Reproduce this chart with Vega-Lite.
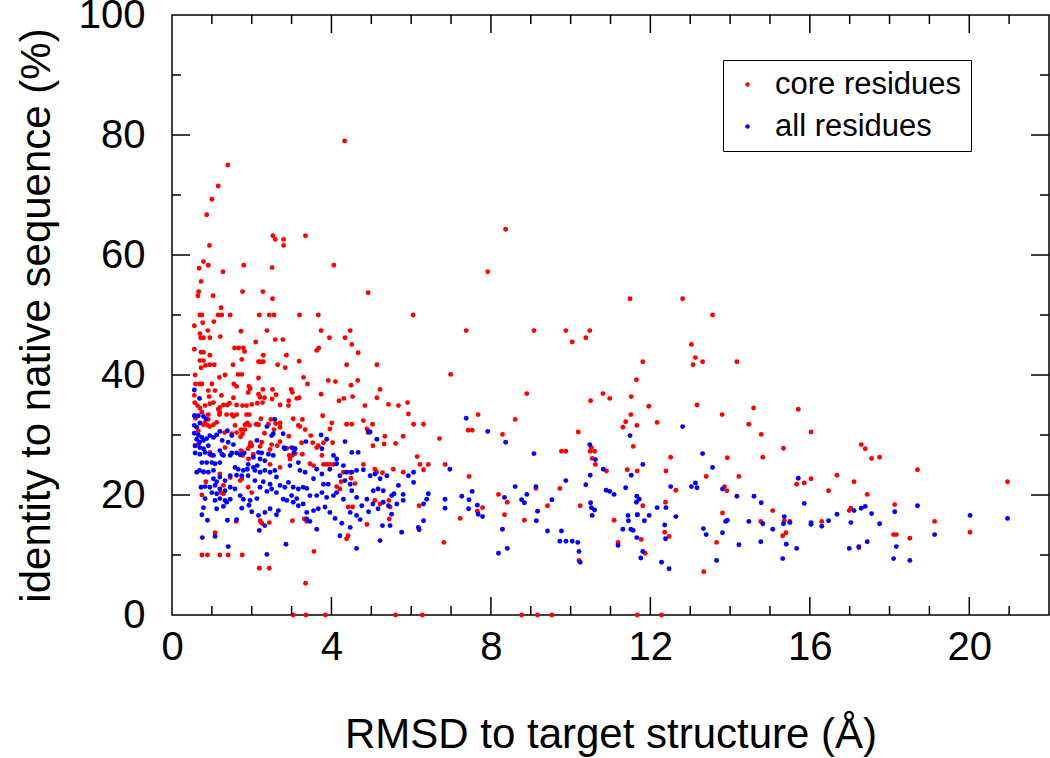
{
  "$schema": "https://vega.github.io/schema/vega-lite/v6.json",
  "width": 877,
  "height": 600,
  "autosize": {"type": "none"},
  "padding": {"left": 172, "top": 15, "right": 1, "bottom": 143},
  "config": {
    "view": {"stroke": "black", "strokeWidth": 1.5},
    "font": "Liberation Sans",
    "axis": {"labelFont": "Liberation Sans", "titleFont": "Liberation Sans", "labelColor": "black", "titleColor": "black", "domain": false, "ticks": false, "grid": false, "titleFontWeight": "normal"}
  },
  "datasets": {
    "xmajor": [{"v": 4}, {"v": 8}, {"v": 12}, {"v": 16}, {"v": 20}],
    "xminor": [{"v": 1}, {"v": 2}, {"v": 3}, {"v": 5}, {"v": 6}, {"v": 7}, {"v": 9}, {"v": 10}, {"v": 11}, {"v": 13}, {"v": 14}, {"v": 15}, {"v": 17}, {"v": 18}, {"v": 19}, {"v": 21}],
    "ymajor": [{"v": 20}, {"v": 40}, {"v": 60}, {"v": 80}],
    "yminor": [{"v": 10}, {"v": 30}, {"v": 50}, {"v": 70}, {"v": 90}]
  },
  "data": {"values": [
{"x":4.33,"y":79.0,"s":"core residues"},{"x":1.40,"y":75.0,"s":"core residues"},{"x":1.16,"y":71.5,"s":"core residues"},{"x":1.00,"y":69.3,"s":"core residues"},{"x":0.87,"y":66.7,"s":"core residues"},{"x":0.94,"y":61.6,"s":"core residues"},{"x":2.53,"y":63.2,"s":"core residues"},{"x":2.59,"y":62.6,"s":"core residues"},{"x":2.80,"y":62.6,"s":"core residues"},{"x":2.80,"y":61.6,"s":"core residues"},{"x":3.35,"y":63.2,"s":"core residues"},{"x":0.79,"y":58.9,"s":"core residues"},{"x":0.68,"y":57.8,"s":"core residues"},{"x":0.91,"y":58.3,"s":"core residues"},{"x":1.80,"y":58.3,"s":"core residues"},{"x":2.51,"y":57.9,"s":"core residues"},{"x":4.06,"y":58.3,"s":"core residues"},{"x":1.28,"y":57.2,"s":"core residues"},{"x":0.73,"y":55.6,"s":"core residues"},{"x":0.67,"y":53.9,"s":"core residues"},{"x":0.65,"y":53.2,"s":"core residues"},{"x":1.03,"y":53.2,"s":"core residues"},{"x":1.77,"y":53.9,"s":"core residues"},{"x":2.28,"y":53.9,"s":"core residues"},{"x":2.52,"y":52.7,"s":"core residues"},{"x":4.92,"y":53.7,"s":"core residues"},{"x":1.23,"y":51.2,"s":"core residues"},{"x":0.70,"y":50,"s":"core residues"},{"x":0.75,"y":50,"s":"core residues"},{"x":1.16,"y":50,"s":"core residues"},{"x":1.25,"y":50,"s":"core residues"},{"x":1.46,"y":50,"s":"core residues"},{"x":2.19,"y":50,"s":"core residues"},{"x":2.44,"y":50,"s":"core residues"},{"x":2.56,"y":50,"s":"core residues"},{"x":3.20,"y":50,"s":"core residues"},{"x":3.67,"y":50,"s":"core residues"},{"x":6.05,"y":50,"s":"core residues"},
{"x":8.37,"y":64.3,"s":"core residues"},{"x":7.92,"y":57.2,"s":"core residues"},{"x":7.38,"y":47.4,"s":"core residues"},{"x":9.08,"y":47.4,"s":"core residues"},{"x":9.88,"y":47.4,"s":"core residues"},{"x":10.04,"y":45.5,"s":"core residues"},{"x":10.38,"y":46.2,"s":"core residues"},{"x":10.48,"y":47.4,"s":"core residues"},{"x":11.49,"y":52.7,"s":"core residues"},{"x":12.81,"y":52.7,"s":"core residues"},{"x":13.56,"y":50.0,"s":"core residues"},{"x":13.03,"y":45.1,"s":"core residues"},{"x":13.13,"y":42.9,"s":"core residues"},{"x":13.07,"y":41.7,"s":"core residues"},{"x":13.31,"y":42.2,"s":"core residues"},{"x":14.17,"y":42.2,"s":"core residues"},{"x":11.81,"y":42.2,"s":"core residues"},{"x":11.65,"y":39.2,"s":"core residues"},{"x":8.90,"y":36.9,"s":"core residues"},{"x":10.50,"y":35.7,"s":"core residues"},{"x":10.81,"y":36.9,"s":"core residues"},{"x":10.98,"y":36.1,"s":"core residues"},{"x":11.52,"y":36.4,"s":"core residues"},{"x":11.96,"y":34.8,"s":"core residues"},{"x":13.17,"y":35.0,"s":"core residues"},{"x":14.59,"y":34.5,"s":"core residues"},{"x":13.80,"y":33.4,"s":"core residues"},{"x":14.47,"y":31.8,"s":"core residues"},{"x":14.78,"y":30.1,"s":"core residues"},{"x":7.68,"y":33.4,"s":"core residues"},{"x":7.43,"y":30.8,"s":"core residues"},{"x":7.53,"y":30.8,"s":"core residues"},{"x":8.61,"y":32.6,"s":"core residues"},{"x":8.29,"y":30.1,"s":"core residues"},{"x":10.19,"y":30.5,"s":"core residues"},{"x":11.51,"y":33.4,"s":"core residues"},{"x":11.38,"y":32.2,"s":"core residues"},{"x":11.31,"y":31.3,"s":"core residues"},{"x":11.66,"y":31.6,"s":"core residues"},{"x":12.17,"y":32.1,"s":"core residues"},{"x":11.57,"y":28.1,"s":"core residues"},{"x":9.77,"y":27.3,"s":"core residues"},{"x":9.88,"y":27.3,"s":"core residues"},{"x":10.49,"y":27.3,"s":"core residues"},{"x":10.52,"y":27.9,"s":"core residues"},{"x":10.60,"y":27.3,"s":"core residues"},{"x":10.54,"y":26.1,"s":"core residues"},{"x":10.62,"y":25.1,"s":"core residues"},{"x":10.90,"y":24.0,"s":"core residues"},{"x":11.42,"y":24.2,"s":"core residues"},{"x":11.67,"y":24.0,"s":"core residues"},{"x":12.39,"y":24.0,"s":"core residues"},{"x":12.51,"y":26.3,"s":"core residues"},{"x":13.40,"y":23.1,"s":"core residues"},{"x":13.93,"y":26.2,"s":"core residues"},{"x":14.22,"y":23.1,"s":"core residues"},{"x":7.45,"y":23.1,"s":"core residues"},{"x":9.13,"y":21.1,"s":"core residues"},{"x":9.73,"y":21.1,"s":"core residues"},{"x":12.64,"y":20.8,"s":"core residues"},{"x":13.86,"y":21.4,"s":"core residues"},{"x":13.92,"y":20.7,"s":"core residues"},{"x":8.19,"y":20.1,"s":"core residues"},{"x":8.41,"y":18.8,"s":"core residues"},{"x":7.79,"y":17.9,"s":"core residues"},{"x":7.66,"y":17.3,"s":"core residues"},{"x":7.23,"y":16.1,"s":"core residues"},{"x":8.34,"y":16.7,"s":"core residues"},{"x":8.84,"y":15.8,"s":"core residues"},{"x":9.42,"y":18.2,"s":"core residues"},{"x":10.24,"y":18.2,"s":"core residues"},{"x":11.09,"y":15.8,"s":"core residues"},{"x":11.81,"y":18.2,"s":"core residues"},{"x":11.68,"y":16.7,"s":"core residues"},{"x":12.38,"y":18.8,"s":"core residues"},{"x":12.36,"y":13.8,"s":"core residues"},{"x":12.47,"y":13.1,"s":"core residues"},{"x":11.77,"y":12.6,"s":"core residues"},{"x":11.19,"y":12.1,"s":"core residues"},{"x":11.87,"y":10.3,"s":"core residues"},{"x":10.21,"y":9.1,"s":"core residues"},{"x":13.34,"y":7.2,"s":"core residues"},{"x":13.66,"y":12.1,"s":"core residues"},{"x":13.81,"y":17.0,"s":"core residues"},{"x":14.77,"y":15.6,"s":"core residues"},{"x":8.77,"y":0,"s":"core residues"},{"x":9.17,"y":0,"s":"core residues"},{"x":9.53,"y":0,"s":"core residues"},{"x":11.67,"y":0,"s":"core residues"},{"x":12.28,"y":0,"s":"core residues"},
{"x":14.82,"y":26.3,"s":"core residues"},{"x":15.34,"y":27.8,"s":"core residues"},{"x":15.71,"y":34.3,"s":"core residues"},{"x":16.03,"y":30.5,"s":"core residues"},{"x":16.03,"y":22.7,"s":"core residues"},{"x":15.67,"y":21.8,"s":"core residues"},{"x":15.86,"y":22.0,"s":"core residues"},{"x":16.47,"y":20.7,"s":"core residues"},{"x":16.68,"y":23.3,"s":"core residues"},{"x":17.11,"y":22.2,"s":"core residues"},{"x":17.29,"y":28.4,"s":"core residues"},{"x":17.39,"y":27.7,"s":"core residues"},{"x":17.55,"y":26.1,"s":"core residues"},{"x":17.75,"y":26.3,"s":"core residues"},{"x":18.70,"y":24.2,"s":"core residues"},{"x":20.96,"y":22.2,"s":"core residues"},{"x":17.44,"y":20.1,"s":"core residues"},{"x":16.99,"y":17.4,"s":"core residues"},{"x":17.03,"y":17.8,"s":"core residues"},{"x":15.07,"y":17.4,"s":"core residues"},{"x":15.36,"y":15.7,"s":"core residues"},{"x":15.50,"y":15.6,"s":"core residues"},{"x":16.30,"y":15.6,"s":"core residues"},{"x":18.13,"y":18.4,"s":"core residues"},{"x":15.32,"y":13.2,"s":"core residues"},{"x":15.40,"y":13.7,"s":"core residues"},{"x":18.10,"y":13.4,"s":"core residues"},{"x":18.17,"y":13.4,"s":"core residues"},{"x":18.51,"y":12.8,"s":"core residues"},{"x":19.13,"y":15.6,"s":"core residues"},{"x":20.02,"y":13.8,"s":"core residues"},{"x":17.23,"y":11.2,"s":"core residues"},
{"x":0.56,"y":48.2,"s":"core residues"},{"x":0.77,"y":48.7,"s":"core residues"},{"x":1.05,"y":48.9,"s":"core residues"},{"x":0.90,"y":47.4,"s":"core residues"},{"x":0.70,"y":46.9,"s":"core residues"},{"x":0.72,"y":46.2,"s":"core residues"},{"x":0.79,"y":46.2,"s":"core residues"},{"x":0.95,"y":46.2,"s":"core residues"},{"x":1.21,"y":46.4,"s":"core residues"},{"x":1.73,"y":47.3,"s":"core residues"},{"x":2.38,"y":47.4,"s":"core residues"},{"x":2.59,"y":45.9,"s":"core residues"},{"x":2.78,"y":45.9,"s":"core residues"},{"x":3.74,"y":47.4,"s":"core residues"},{"x":3.95,"y":46.2,"s":"core residues"},{"x":4.34,"y":46.2,"s":"core residues"},{"x":4.47,"y":47.4,"s":"core residues"},{"x":4.51,"y":45.1,"s":"core residues"},{"x":4.67,"y":43.7,"s":"core residues"},{"x":0.56,"y":44.3,"s":"core residues"},{"x":0.73,"y":43.8,"s":"core residues"},{"x":0.79,"y":43.8,"s":"core residues"},{"x":0.95,"y":43.3,"s":"core residues"},{"x":2.10,"y":45.5,"s":"core residues"},{"x":1.57,"y":44.5,"s":"core residues"},{"x":1.67,"y":44.5,"s":"core residues"},{"x":1.79,"y":44.5,"s":"core residues"},{"x":1.82,"y":43.9,"s":"core residues"},{"x":2.29,"y":43.3,"s":"core residues"},{"x":2.87,"y":43.3,"s":"core residues"},{"x":3.63,"y":44.1,"s":"core residues"},{"x":3.68,"y":44.5,"s":"core residues"},{"x":1.75,"y":42.6,"s":"core residues"},{"x":0.70,"y":42.4,"s":"core residues"},{"x":0.79,"y":42.4,"s":"core residues"},{"x":0.95,"y":41.7,"s":"core residues"},{"x":0.73,"y":41.2,"s":"core residues"},{"x":0.84,"y":41.6,"s":"core residues"},{"x":1.06,"y":41.7,"s":"core residues"},{"x":1.53,"y":41.7,"s":"core residues"},{"x":2.17,"y":42.2,"s":"core residues"},{"x":2.23,"y":42.2,"s":"core residues"},{"x":2.29,"y":42.2,"s":"core residues"},{"x":2.65,"y":41.7,"s":"core residues"},{"x":2.84,"y":41.2,"s":"core residues"},{"x":3.19,"y":42.3,"s":"core residues"},{"x":4.38,"y":41.7,"s":"core residues"},{"x":5.14,"y":41.7,"s":"core residues"},{"x":6.99,"y":40.1,"s":"core residues"},{"x":0.58,"y":40.0,"s":"core residues"},{"x":0.59,"y":38.5,"s":"core residues"},{"x":0.69,"y":38.5,"s":"core residues"},{"x":0.75,"y":38.5,"s":"core residues"},{"x":1.00,"y":38.5,"s":"core residues"},{"x":1.19,"y":39.6,"s":"core residues"},{"x":1.33,"y":40.0,"s":"core residues"},{"x":1.66,"y":40.1,"s":"core residues"},{"x":1.75,"y":40.1,"s":"core residues"},{"x":1.55,"y":38.5,"s":"core residues"},{"x":1.62,"y":38.1,"s":"core residues"},{"x":1.93,"y":38.1,"s":"core residues"},{"x":2.17,"y":39.5,"s":"core residues"},{"x":3.30,"y":39.6,"s":"core residues"},{"x":3.40,"y":38.5,"s":"core residues"},{"x":3.92,"y":39.1,"s":"core residues"},{"x":4.10,"y":38.9,"s":"core residues"},{"x":4.66,"y":39.1,"s":"core residues"},{"x":4.49,"y":38.3,"s":"core residues"},{"x":0.56,"y":36.6,"s":"core residues"},{"x":0.57,"y":35.4,"s":"core residues"},{"x":0.91,"y":37.4,"s":"core residues"},{"x":1.08,"y":37.4,"s":"core residues"},{"x":1.24,"y":36.6,"s":"core residues"},{"x":0.93,"y":36.4,"s":"core residues"},{"x":0.64,"y":34.9,"s":"core residues"},{"x":0.70,"y":34.5,"s":"core residues"},{"x":0.83,"y":34.9,"s":"core residues"},{"x":0.95,"y":35.2,"s":"core residues"},{"x":1.04,"y":35.4,"s":"core residues"},{"x":1.16,"y":34.3,"s":"core residues"},{"x":1.20,"y":34.6,"s":"core residues"},{"x":1.29,"y":35.0,"s":"core residues"},{"x":1.39,"y":35.0,"s":"core residues"},{"x":1.44,"y":35.3,"s":"core residues"},{"x":1.54,"y":36.2,"s":"core residues"},{"x":1.62,"y":35.0,"s":"core residues"},{"x":1.77,"y":34.9,"s":"core residues"},{"x":1.87,"y":34.9,"s":"core residues"},{"x":2.00,"y":35.1,"s":"core residues"},{"x":1.91,"y":37.1,"s":"core residues"},{"x":1.96,"y":37.7,"s":"core residues"},{"x":2.17,"y":36.8,"s":"core residues"},{"x":2.21,"y":36.3,"s":"core residues"},{"x":2.28,"y":37.6,"s":"core residues"},{"x":2.32,"y":36.2,"s":"core residues"},{"x":2.52,"y":37.6,"s":"core residues"},{"x":2.61,"y":36.7,"s":"core residues"},{"x":2.51,"y":36.0,"s":"core residues"},{"x":2.27,"y":35.4,"s":"core residues"},{"x":2.14,"y":35.3,"s":"core residues"},{"x":2.71,"y":35.0,"s":"core residues"},{"x":2.93,"y":35.7,"s":"core residues"},{"x":2.99,"y":37.6,"s":"core residues"},{"x":3.02,"y":37.1,"s":"core residues"},{"x":2.92,"y":34.9,"s":"core residues"},{"x":3.13,"y":36.1,"s":"core residues"},{"x":3.19,"y":36.2,"s":"core residues"},{"x":3.74,"y":36.8,"s":"core residues"},{"x":4.19,"y":35.7,"s":"core residues"},{"x":4.31,"y":36.1,"s":"core residues"},{"x":4.53,"y":36.4,"s":"core residues"},{"x":4.84,"y":34.9,"s":"core residues"},{"x":5.43,"y":35.1,"s":"core residues"},{"x":5.68,"y":34.9,"s":"core residues"},{"x":5.91,"y":35.4,"s":"core residues"},{"x":5.14,"y":36.2,"s":"core residues"},{"x":5.22,"y":37.6,"s":"core residues"},
{"x":0.75,"y":33.8,"s":"core residues"},{"x":0.91,"y":33.4,"s":"core residues"},{"x":1.19,"y":33.4,"s":"core residues"},{"x":1.20,"y":33.8,"s":"core residues"},{"x":1.37,"y":33.4,"s":"core residues"},{"x":1.50,"y":33.4,"s":"core residues"},{"x":1.54,"y":33.1,"s":"core residues"},{"x":1.62,"y":33.4,"s":"core residues"},{"x":1.87,"y":33.4,"s":"core residues"},{"x":1.94,"y":33.4,"s":"core residues"},{"x":0.90,"y":31.6,"s":"core residues"},{"x":0.83,"y":32.1,"s":"core residues"},{"x":0.91,"y":32.6,"s":"core residues"},{"x":1.04,"y":31.7,"s":"core residues"},{"x":1.12,"y":32.1,"s":"core residues"},{"x":1.83,"y":31.7,"s":"core residues"},{"x":1.89,"y":32.0,"s":"core residues"},{"x":1.94,"y":31.6,"s":"core residues"},{"x":1.58,"y":31.6,"s":"core residues"},{"x":1.73,"y":30.9,"s":"core residues"},{"x":1.83,"y":30.9,"s":"core residues"},{"x":2.11,"y":31.8,"s":"core residues"},{"x":2.17,"y":31.7,"s":"core residues"},{"x":2.23,"y":32.7,"s":"core residues"},{"x":2.42,"y":31.8,"s":"core residues"},{"x":2.48,"y":32.6,"s":"core residues"},{"x":2.60,"y":31.9,"s":"core residues"},{"x":2.71,"y":32.0,"s":"core residues"},{"x":3.04,"y":32.7,"s":"core residues"},{"x":3.17,"y":31.6,"s":"core residues"},{"x":3.21,"y":31.4,"s":"core residues"},{"x":3.27,"y":32.6,"s":"core residues"},{"x":3.34,"y":30.9,"s":"core residues"},{"x":3.48,"y":29.9,"s":"core residues"},{"x":3.53,"y":28.7,"s":"core residues"},{"x":3.63,"y":27.9,"s":"core residues"},{"x":3.67,"y":28.2,"s":"core residues"},{"x":3.80,"y":28.7,"s":"core residues"},{"x":3.78,"y":33.2,"s":"core residues"},{"x":3.96,"y":31.0,"s":"core residues"},{"x":4.01,"y":32.0,"s":"core residues"},{"x":4.03,"y":28.7,"s":"core residues"},{"x":4.38,"y":31.8,"s":"core residues"},{"x":4.51,"y":31.8,"s":"core residues"},{"x":4.80,"y":32.4,"s":"core residues"},{"x":4.89,"y":31.0,"s":"core residues"},{"x":4.92,"y":30.4,"s":"core residues"},{"x":5.03,"y":31.8,"s":"core residues"},{"x":5.04,"y":28.2,"s":"core residues"},{"x":5.34,"y":29.8,"s":"core residues"},{"x":5.32,"y":28.5,"s":"core residues"},{"x":5.61,"y":28.6,"s":"core residues"},{"x":5.80,"y":29.8,"s":"core residues"},{"x":5.93,"y":33.5,"s":"core residues"},{"x":6.06,"y":31.8,"s":"core residues"},{"x":6.31,"y":31.8,"s":"core residues"},{"x":6.71,"y":29.4,"s":"core residues"},{"x":0.66,"y":30.7,"s":"core residues"},{"x":0.79,"y":31.7,"s":"core residues"},{"x":0.95,"y":31.4,"s":"core residues"},{"x":0.59,"y":32.8,"s":"core residues"},{"x":0.58,"y":33.2,"s":"core residues"},{"x":1.32,"y":30.4,"s":"core residues"},{"x":1.50,"y":30.2,"s":"core residues"},{"x":1.62,"y":30.4,"s":"core residues"},{"x":1.72,"y":29.7,"s":"core residues"},{"x":1.77,"y":30.2,"s":"core residues"},{"x":1.97,"y":28.7,"s":"core residues"},{"x":2.00,"y":28.2,"s":"core residues"},{"x":2.21,"y":28.1,"s":"core residues"},{"x":2.25,"y":28.8,"s":"core residues"},{"x":2.46,"y":27.6,"s":"core residues"},{"x":2.50,"y":28.4,"s":"core residues"},{"x":2.32,"y":30.3,"s":"core residues"},{"x":2.56,"y":30.9,"s":"core residues"},{"x":2.71,"y":31.3,"s":"core residues"},{"x":2.93,"y":29.8,"s":"core residues"},{"x":2.71,"y":28.9,"s":"core residues"},{"x":2.64,"y":28.2,"s":"core residues"},{"x":2.88,"y":27.8,"s":"core residues"},{"x":3.04,"y":27.8,"s":"core residues"},{"x":3.02,"y":26.6,"s":"core residues"},{"x":2.96,"y":26.0,"s":"core residues"},{"x":2.94,"y":26.6,"s":"core residues"},{"x":3.09,"y":26.9,"s":"core residues"},{"x":3.25,"y":28.7,"s":"core residues"},{"x":3.27,"y":26.8,"s":"core residues"},{"x":3.46,"y":25.2,"s":"core residues"},{"x":3.55,"y":24.9,"s":"core residues"},{"x":3.80,"y":25.1,"s":"core residues"},{"x":3.88,"y":25.1,"s":"core residues"},{"x":3.96,"y":25.1,"s":"core residues"},{"x":4.05,"y":25.1,"s":"core residues"},{"x":3.76,"y":26.6,"s":"core residues"},{"x":4.47,"y":23.8,"s":"core residues"},{"x":4.49,"y":22.8,"s":"core residues"},{"x":4.30,"y":23.8,"s":"core residues"},{"x":4.24,"y":22.2,"s":"core residues"},{"x":4.13,"y":21.4,"s":"core residues"},{"x":4.21,"y":21.0,"s":"core residues"},{"x":4.59,"y":21.9,"s":"core residues"},{"x":4.80,"y":25.1,"s":"core residues"},{"x":5.09,"y":24.3,"s":"core residues"},{"x":5.13,"y":23.8,"s":"core residues"},{"x":5.55,"y":24.3,"s":"core residues"},{"x":5.28,"y":23.7,"s":"core residues"},{"x":5.09,"y":19.1,"s":"core residues"},{"x":5.22,"y":18.5,"s":"core residues"},{"x":5.44,"y":19.1,"s":"core residues"},{"x":5.47,"y":18.0,"s":"core residues"},{"x":5.45,"y":16.0,"s":"core residues"},{"x":4.42,"y":18.0,"s":"core residues"},{"x":4.53,"y":18.0,"s":"core residues"},{"x":4.38,"y":12.7,"s":"core residues"},{"x":4.42,"y":13.2,"s":"core residues"},{"x":4.89,"y":15.1,"s":"core residues"},{"x":6.22,"y":25.1,"s":"core residues"},{"x":6.31,"y":24.2,"s":"core residues"},{"x":6.43,"y":25.1,"s":"core residues"},{"x":6.15,"y":26.4,"s":"core residues"},{"x":5.80,"y":23.8,"s":"core residues"},{"x":6.20,"y":18.2,"s":"core residues"},{"x":6.82,"y":12.1,"s":"core residues"},{"x":6.85,"y":25.1,"s":"core residues"},{"x":3.56,"y":10.6,"s":"core residues"},{"x":3.35,"y":5.3,"s":"core residues"},{"x":2.19,"y":7.8,"s":"core residues"},{"x":2.44,"y":7.8,"s":"core residues"},{"x":0.75,"y":10.0,"s":"core residues"},{"x":0.89,"y":10.0,"s":"core residues"},{"x":1.20,"y":10.0,"s":"core residues"},{"x":1.41,"y":10.0,"s":"core residues"},{"x":1.76,"y":10.0,"s":"core residues"},{"x":1.08,"y":13.7,"s":"core residues"},{"x":3.32,"y":16.0,"s":"core residues"},{"x":3.38,"y":15.6,"s":"core residues"},{"x":2.21,"y":15.7,"s":"core residues"},{"x":2.25,"y":15.3,"s":"core residues"},{"x":1.61,"y":15.6,"s":"core residues"},{"x":2.44,"y":15.4,"s":"core residues"},{"x":3.02,"y":15.7,"s":"core residues"},{"x":3.04,"y":0,"s":"core residues"},{"x":3.36,"y":0,"s":"core residues"},{"x":3.85,"y":0,"s":"core residues"},{"x":5.61,"y":0,"s":"core residues"},{"x":6.28,"y":0,"s":"core residues"},{"x":2.71,"y":24.6,"s":"core residues"},{"x":2.46,"y":25.1,"s":"core residues"},{"x":1.92,"y":26.0,"s":"core residues"},{"x":2.04,"y":26.8,"s":"core residues"},{"x":1.73,"y":27.4,"s":"core residues"},{"x":1.77,"y":26.6,"s":"core residues"},{"x":1.96,"y":28.2,"s":"core residues"},{"x":1.91,"y":27.7,"s":"core residues"},{"x":1.33,"y":27.9,"s":"core residues"},{"x":0.95,"y":27.1,"s":"core residues"},{"x":1.00,"y":26.6,"s":"core residues"},{"x":0.58,"y":28.2,"s":"core residues"},{"x":0.66,"y":28.4,"s":"core residues"},{"x":0.85,"y":22.2,"s":"core residues"},{"x":1.71,"y":22.4,"s":"core residues"},{"x":1.75,"y":22.7,"s":"core residues"},{"x":1.22,"y":20.4,"s":"core residues"},{"x":1.29,"y":20.2,"s":"core residues"},{"x":1.91,"y":21.3,"s":"core residues"},{"x":2.00,"y":20.4,"s":"core residues"},{"x":1.29,"y":21.6,"s":"core residues"},{"x":0.75,"y":20.0,"s":"core residues"},{"x":0.79,"y":23.8,"s":"core residues"},{"x":1.20,"y":23.5,"s":"core residues"},{"x":1.46,"y":22.9,"s":"core residues"},
{"x":7.38,"y":32.8,"s":"all residues"},{"x":7.92,"y":30.6,"s":"all residues"},{"x":8.37,"y":28.8,"s":"all residues"},{"x":9.08,"y":26.9,"s":"all residues"},{"x":10.48,"y":28.4,"s":"all residues"},{"x":10.62,"y":25.9,"s":"all residues"},{"x":10.49,"y":23.3,"s":"all residues"},{"x":10.82,"y":24.3,"s":"all residues"},{"x":11.52,"y":23.3,"s":"all residues"},{"x":11.81,"y":25.1,"s":"all residues"},{"x":11.49,"y":29.9,"s":"all residues"},{"x":12.81,"y":31.4,"s":"all residues"},{"x":13.31,"y":26.9,"s":"all residues"},{"x":13.56,"y":24.6,"s":"all residues"},{"x":10.38,"y":21.7,"s":"all residues"},{"x":9.88,"y":22.4,"s":"all residues"},{"x":8.61,"y":21.4,"s":"all residues"},{"x":9.13,"y":21.4,"s":"all residues"},{"x":8.90,"y":20.1,"s":"all residues"},{"x":8.77,"y":19.2,"s":"all residues"},{"x":8.84,"y":18.7,"s":"all residues"},{"x":8.34,"y":19.6,"s":"all residues"},{"x":7.53,"y":20.6,"s":"all residues"},{"x":7.27,"y":19.8,"s":"all residues"},{"x":7.45,"y":19.2,"s":"all residues"},{"x":7.66,"y":18.3,"s":"all residues"},{"x":7.44,"y":17.7,"s":"all residues"},{"x":7.68,"y":16.8,"s":"all residues"},{"x":7.79,"y":16.4,"s":"all residues"},{"x":8.29,"y":14.3,"s":"all residues"},{"x":8.19,"y":10.3,"s":"all residues"},{"x":8.41,"y":11.1,"s":"all residues"},{"x":9.17,"y":17.3,"s":"all residues"},{"x":9.14,"y":15.7,"s":"all residues"},{"x":9.53,"y":19.2,"s":"all residues"},{"x":9.42,"y":14.0,"s":"all residues"},{"x":9.77,"y":14.0,"s":"all residues"},{"x":9.73,"y":12.3,"s":"all residues"},{"x":9.88,"y":12.3,"s":"all residues"},{"x":10.04,"y":12.3,"s":"all residues"},{"x":10.18,"y":12.1,"s":"all residues"},{"x":10.21,"y":10.6,"s":"all residues"},{"x":10.24,"y":8.8,"s":"all residues"},{"x":10.50,"y":18.7,"s":"all residues"},{"x":10.52,"y":17.9,"s":"all residues"},{"x":10.60,"y":17.5,"s":"all residues"},{"x":10.54,"y":16.6,"s":"all residues"},{"x":10.89,"y":20.8,"s":"all residues"},{"x":10.98,"y":20.6,"s":"all residues"},{"x":11.09,"y":20.1,"s":"all residues"},{"x":11.38,"y":21.2,"s":"all residues"},{"x":11.66,"y":19.8,"s":"all residues"},{"x":11.72,"y":19.3,"s":"all residues"},{"x":11.65,"y":18.8,"s":"all residues"},{"x":11.44,"y":16.6,"s":"all residues"},{"x":11.45,"y":15.7,"s":"all residues"},{"x":11.67,"y":16.7,"s":"all residues"},{"x":11.85,"y":15.7,"s":"all residues"},{"x":11.97,"y":16.6,"s":"all residues"},{"x":11.31,"y":14.3,"s":"all residues"},{"x":11.51,"y":14.3,"s":"all residues"},{"x":11.57,"y":14.1,"s":"all residues"},{"x":11.66,"y":12.9,"s":"all residues"},{"x":11.19,"y":11.6,"s":"all residues"},{"x":11.81,"y":10.6,"s":"all residues"},{"x":11.76,"y":9.5,"s":"all residues"},{"x":12.17,"y":17.9,"s":"all residues"},{"x":12.39,"y":17.9,"s":"all residues"},{"x":12.51,"y":21.4,"s":"all residues"},{"x":12.64,"y":16.4,"s":"all residues"},{"x":12.36,"y":15.0,"s":"all residues"},{"x":12.38,"y":12.7,"s":"all residues"},{"x":12.28,"y":8.8,"s":"all residues"},{"x":12.47,"y":7.7,"s":"all residues"},{"x":13.03,"y":21.4,"s":"all residues"},{"x":13.13,"y":22.0,"s":"all residues"},{"x":13.17,"y":21.2,"s":"all residues"},{"x":13.33,"y":14.4,"s":"all residues"},{"x":13.40,"y":13.4,"s":"all residues"},{"x":13.81,"y":21.0,"s":"all residues"},{"x":13.89,"y":15.6,"s":"all residues"},{"x":13.93,"y":15.8,"s":"all residues"},{"x":13.81,"y":13.7,"s":"all residues"},{"x":13.66,"y":9.1,"s":"all residues"},{"x":14.17,"y":19.8,"s":"all residues"},{"x":14.47,"y":15.6,"s":"all residues"},{"x":14.22,"y":11.7,"s":"all residues"},{"x":14.60,"y":19.8,"s":"all residues"},
{"x":14.78,"y":18.7,"s":"all residues"},{"x":14.82,"y":15.2,"s":"all residues"},{"x":15.07,"y":14.3,"s":"all residues"},{"x":14.77,"y":12.2,"s":"all residues"},{"x":15.32,"y":9.4,"s":"all residues"},{"x":15.36,"y":16.4,"s":"all residues"},{"x":15.34,"y":15.2,"s":"all residues"},{"x":15.50,"y":15.4,"s":"all residues"},{"x":15.41,"y":11.8,"s":"all residues"},{"x":15.67,"y":11.1,"s":"all residues"},{"x":15.71,"y":22.8,"s":"all residues"},{"x":15.86,"y":18.6,"s":"all residues"},{"x":16.03,"y":15.4,"s":"all residues"},{"x":16.03,"y":15.1,"s":"all residues"},{"x":16.30,"y":14.8,"s":"all residues"},{"x":16.47,"y":15.7,"s":"all residues"},{"x":16.68,"y":16.8,"s":"all residues"},{"x":16.99,"y":11.1,"s":"all residues"},{"x":17.03,"y":15.4,"s":"all residues"},{"x":17.11,"y":17.4,"s":"all residues"},{"x":17.23,"y":11.4,"s":"all residues"},{"x":17.29,"y":17.8,"s":"all residues"},{"x":17.39,"y":18.1,"s":"all residues"},{"x":17.44,"y":12.2,"s":"all residues"},{"x":17.55,"y":16.9,"s":"all residues"},{"x":17.75,"y":15.2,"s":"all residues"},{"x":18.13,"y":17.2,"s":"all residues"},{"x":18.10,"y":9.4,"s":"all residues"},{"x":18.17,"y":11.4,"s":"all residues"},{"x":18.51,"y":9.1,"s":"all residues"},{"x":18.70,"y":18.2,"s":"all residues"},{"x":19.13,"y":13.4,"s":"all residues"},{"x":20.02,"y":16.6,"s":"all residues"},{"x":20.96,"y":16.1,"s":"all residues"},
{"x":0.56,"y":37.5,"s":"all residues"},{"x":0.69,"y":36.1,"s":"all residues"},{"x":0.56,"y":33.2,"s":"all residues"},{"x":0.66,"y":33.2,"s":"all residues"},{"x":0.79,"y":33.1,"s":"all residues"},{"x":0.85,"y":32.7,"s":"all residues"},{"x":0.56,"y":31.6,"s":"all residues"},{"x":0.62,"y":31.3,"s":"all residues"},{"x":0.70,"y":32.0,"s":"all residues"},{"x":0.56,"y":30.3,"s":"all residues"},{"x":0.66,"y":30.0,"s":"all residues"},{"x":0.75,"y":29.6,"s":"all residues"},{"x":0.62,"y":29.3,"s":"all residues"},{"x":0.69,"y":28.8,"s":"all residues"},{"x":0.79,"y":29.1,"s":"all residues"},{"x":0.87,"y":29.4,"s":"all residues"},{"x":0.95,"y":29.9,"s":"all residues"},{"x":1.04,"y":29.6,"s":"all residues"},{"x":1.12,"y":30.0,"s":"all residues"},{"x":0.58,"y":28.2,"s":"all residues"},{"x":0.70,"y":27.9,"s":"all residues"},{"x":0.79,"y":27.7,"s":"all residues"},{"x":0.91,"y":28.2,"s":"all residues"},{"x":0.58,"y":27.0,"s":"all residues"},{"x":0.70,"y":26.8,"s":"all residues"},{"x":0.83,"y":27.1,"s":"all residues"},{"x":0.95,"y":26.8,"s":"all residues"},{"x":1.04,"y":26.6,"s":"all residues"},{"x":1.20,"y":27.4,"s":"all residues"},{"x":1.25,"y":26.8,"s":"all residues"},{"x":1.29,"y":26.6,"s":"all residues"},{"x":1.46,"y":26.6,"s":"all residues"},{"x":1.50,"y":27.0,"s":"all residues"},{"x":1.26,"y":29.1,"s":"all residues"},{"x":1.41,"y":28.8,"s":"all residues"},{"x":1.54,"y":28.4,"s":"all residues"},{"x":1.20,"y":30.6,"s":"all residues"},{"x":1.39,"y":30.7,"s":"all residues"},{"x":1.50,"y":29.9,"s":"all residues"},{"x":0.75,"y":25.4,"s":"all residues"},{"x":0.87,"y":25.4,"s":"all residues"},{"x":1.00,"y":25.4,"s":"all residues"},{"x":1.08,"y":25.2,"s":"all residues"},{"x":1.20,"y":25.4,"s":"all residues"},{"x":0.69,"y":24.1,"s":"all residues"},{"x":0.79,"y":23.9,"s":"all residues"},{"x":0.91,"y":23.8,"s":"all residues"},{"x":1.04,"y":24.1,"s":"all residues"},{"x":0.62,"y":23.8,"s":"all residues"},{"x":1.62,"y":27.0,"s":"all residues"},{"x":1.71,"y":26.7,"s":"all residues"},{"x":1.81,"y":27.0,"s":"all residues"},{"x":2.13,"y":29.1,"s":"all residues"},{"x":2.38,"y":31.4,"s":"all residues"},{"x":2.58,"y":32.6,"s":"all residues"},{"x":2.79,"y":30.2,"s":"all residues"},{"x":2.50,"y":29.9,"s":"all residues"},{"x":2.54,"y":30.2,"s":"all residues"},{"x":2.17,"y":27.1,"s":"all residues"},{"x":2.25,"y":27.0,"s":"all residues"},{"x":2.42,"y":26.8,"s":"all residues"},{"x":2.54,"y":26.6,"s":"all residues"},{"x":2.04,"y":26.3,"s":"all residues"},{"x":2.21,"y":26.0,"s":"all residues"},{"x":2.33,"y":25.7,"s":"all residues"},{"x":1.91,"y":25.1,"s":"all residues"},{"x":2.04,"y":24.6,"s":"all residues"},{"x":2.14,"y":24.9,"s":"all residues"},{"x":1.58,"y":24.6,"s":"all residues"},{"x":1.66,"y":24.3,"s":"all residues"},{"x":1.79,"y":24.1,"s":"all residues"},{"x":1.89,"y":24.3,"s":"all residues"},{"x":1.46,"y":23.2,"s":"all residues"},{"x":1.62,"y":23.3,"s":"all residues"},{"x":1.75,"y":23.2,"s":"all residues"},{"x":1.91,"y":23.2,"s":"all residues"},{"x":2.08,"y":24.1,"s":"all residues"},{"x":2.21,"y":23.8,"s":"all residues"},{"x":2.33,"y":24.1,"s":"all residues"},{"x":2.46,"y":23.8,"s":"all residues"},{"x":2.58,"y":24.1,"s":"all residues"},{"x":2.62,"y":23.0,"s":"all residues"},{"x":1.04,"y":22.7,"s":"all residues"},{"x":1.12,"y":22.2,"s":"all residues"},{"x":1.20,"y":23.0,"s":"all residues"},{"x":1.33,"y":22.4,"s":"all residues"},{"x":0.73,"y":21.3,"s":"all residues"},{"x":0.83,"y":21.4,"s":"all residues"},{"x":0.95,"y":21.3,"s":"all residues"},{"x":1.08,"y":21.6,"s":"all residues"},{"x":1.20,"y":21.0,"s":"all residues"},{"x":1.33,"y":20.7,"s":"all residues"},{"x":1.46,"y":21.3,"s":"all residues"},{"x":1.58,"y":21.0,"s":"all residues"},{"x":1.00,"y":20.4,"s":"all residues"},{"x":1.12,"y":20.2,"s":"all residues"},{"x":0.83,"y":19.4,"s":"all residues"},{"x":1.08,"y":19.1,"s":"all residues"},{"x":1.20,"y":19.4,"s":"all residues"},{"x":1.33,"y":19.1,"s":"all residues"},{"x":1.46,"y":19.3,"s":"all residues"},{"x":1.12,"y":17.7,"s":"all residues"},{"x":1.29,"y":18.1,"s":"all residues"},{"x":1.37,"y":18.8,"s":"all residues"},{"x":0.75,"y":16.7,"s":"all residues"},{"x":0.79,"y":17.9,"s":"all residues"},{"x":0.89,"y":15.8,"s":"all residues"},{"x":1.39,"y":15.8,"s":"all residues"},{"x":1.62,"y":15.9,"s":"all residues"},{"x":0.76,"y":12.9,"s":"all residues"},{"x":1.08,"y":13.1,"s":"all residues"},{"x":1.41,"y":11.4,"s":"all residues"},{"x":1.71,"y":19.9,"s":"all residues"},{"x":1.79,"y":19.3,"s":"all residues"},{"x":1.96,"y":19.1,"s":"all residues"},{"x":2.13,"y":19.4,"s":"all residues"},{"x":1.75,"y":17.8,"s":"all residues"},{"x":1.93,"y":18.3,"s":"all residues"},{"x":2.00,"y":17.2,"s":"all residues"},{"x":2.17,"y":16.6,"s":"all residues"},{"x":2.33,"y":17.1,"s":"all residues"},{"x":2.46,"y":17.7,"s":"all residues"},{"x":2.21,"y":21.3,"s":"all residues"},{"x":2.38,"y":20.6,"s":"all residues"},{"x":2.50,"y":21.0,"s":"all residues"},{"x":2.62,"y":20.4,"s":"all residues"},{"x":2.08,"y":22.4,"s":"all residues"},{"x":2.29,"y":22.2,"s":"all residues"},{"x":2.46,"y":21.8,"s":"all residues"},{"x":2.33,"y":14.9,"s":"all residues"},{"x":2.19,"y":14.1,"s":"all residues"},{"x":2.38,"y":10.1,"s":"all residues"},{"x":2.62,"y":16.7,"s":"all residues"},{"x":2.67,"y":17.4,"s":"all residues"},{"x":2.79,"y":19.3,"s":"all residues"},{"x":2.88,"y":19.1,"s":"all residues"},{"x":3.00,"y":19.9,"s":"all residues"},{"x":3.13,"y":19.4,"s":"all residues"},{"x":2.71,"y":21.6,"s":"all residues"},{"x":2.83,"y":21.3,"s":"all residues"},{"x":2.92,"y":22.1,"s":"all residues"},{"x":3.04,"y":21.3,"s":"all residues"},{"x":3.17,"y":21.0,"s":"all residues"},{"x":3.29,"y":21.3,"s":"all residues"},{"x":3.38,"y":21.1,"s":"all residues"},{"x":2.83,"y":27.7,"s":"all residues"},{"x":3.06,"y":27.1,"s":"all residues"},{"x":3.17,"y":25.4,"s":"all residues"},{"x":2.96,"y":24.9,"s":"all residues"},{"x":3.21,"y":24.1,"s":"all residues"},{"x":3.34,"y":23.8,"s":"all residues"},{"x":3.36,"y":28.9,"s":"all residues"},{"x":3.74,"y":30.0,"s":"all residues"},{"x":3.88,"y":29.3,"s":"all residues"},{"x":4.34,"y":28.9,"s":"all residues"},{"x":4.51,"y":27.1,"s":"all residues"},{"x":4.67,"y":27.1,"s":"all residues"},{"x":4.05,"y":26.6,"s":"all residues"},{"x":4.13,"y":26.0,"s":"all residues"},{"x":3.63,"y":24.3,"s":"all residues"},{"x":3.76,"y":23.5,"s":"all residues"},{"x":3.96,"y":24.3,"s":"all residues"},{"x":4.13,"y":25.2,"s":"all residues"},{"x":3.55,"y":22.7,"s":"all residues"},{"x":3.80,"y":21.8,"s":"all residues"},{"x":3.92,"y":21.8,"s":"all residues"},{"x":4.30,"y":24.9,"s":"all residues"},{"x":4.38,"y":23.8,"s":"all residues"},{"x":4.51,"y":23.8,"s":"all residues"},{"x":4.21,"y":23.2,"s":"all residues"},{"x":4.34,"y":22.4,"s":"all residues"},{"x":4.47,"y":21.8,"s":"all residues"},{"x":4.51,"y":20.7,"s":"all residues"},{"x":4.63,"y":24.1,"s":"all residues"},{"x":4.80,"y":24.2,"s":"all residues"},{"x":3.46,"y":19.9,"s":"all residues"},{"x":3.63,"y":19.9,"s":"all residues"},{"x":3.76,"y":20.4,"s":"all residues"},{"x":3.88,"y":19.6,"s":"all residues"},{"x":4.05,"y":19.9,"s":"all residues"},{"x":4.13,"y":20.4,"s":"all residues"},{"x":3.04,"y":18.8,"s":"all residues"},{"x":3.17,"y":18.2,"s":"all residues"},{"x":3.29,"y":18.5,"s":"all residues"},{"x":3.38,"y":17.1,"s":"all residues"},{"x":3.55,"y":17.4,"s":"all residues"},{"x":3.67,"y":17.7,"s":"all residues"},{"x":3.84,"y":18.0,"s":"all residues"},{"x":3.96,"y":17.1,"s":"all residues"},{"x":3.38,"y":16.0,"s":"all residues"},{"x":3.46,"y":15.6,"s":"all residues"},{"x":3.63,"y":14.3,"s":"all residues"},{"x":4.09,"y":16.1,"s":"all residues"},{"x":4.26,"y":15.3,"s":"all residues"},{"x":4.47,"y":14.6,"s":"all residues"},{"x":4.21,"y":13.2,"s":"all residues"},{"x":4.63,"y":11.1,"s":"all residues"},{"x":4.30,"y":19.3,"s":"all residues"},{"x":4.63,"y":19.6,"s":"all residues"},{"x":4.76,"y":18.2,"s":"all residues"},{"x":4.89,"y":19.3,"s":"all residues"},{"x":4.47,"y":17.1,"s":"all residues"},{"x":4.63,"y":16.6,"s":"all residues"},{"x":4.72,"y":15.9,"s":"all residues"},{"x":4.93,"y":17.2,"s":"all residues"},{"x":5.04,"y":18.5,"s":"all residues"},{"x":5.17,"y":17.7,"s":"all residues"},{"x":5.05,"y":20.7,"s":"all residues"},{"x":5.17,"y":21.0,"s":"all residues"},{"x":5.30,"y":20.7,"s":"all residues"},{"x":5.14,"y":29.3,"s":"all residues"},{"x":4.97,"y":30.5,"s":"all residues"},{"x":4.97,"y":23.2,"s":"all residues"},{"x":5.09,"y":23.5,"s":"all residues"},{"x":5.22,"y":22.7,"s":"all residues"},{"x":5.39,"y":23.2,"s":"all residues"},{"x":5.30,"y":18.8,"s":"all residues"},{"x":5.43,"y":18.2,"s":"all residues"},{"x":5.51,"y":16.8,"s":"all residues"},{"x":5.64,"y":18.5,"s":"all residues"},{"x":5.80,"y":19.1,"s":"all residues"},{"x":5.47,"y":14.9,"s":"all residues"},{"x":5.28,"y":14.9,"s":"all residues"},{"x":5.22,"y":12.4,"s":"all residues"},{"x":5.51,"y":19.9,"s":"all residues"},{"x":5.57,"y":20.2,"s":"all residues"},{"x":5.80,"y":20.1,"s":"all residues"},{"x":5.68,"y":21.6,"s":"all residues"},{"x":5.93,"y":23.2,"s":"all residues"},{"x":6.06,"y":23.8,"s":"all residues"},{"x":6.06,"y":22.1,"s":"all residues"},{"x":6.31,"y":18.5,"s":"all residues"},{"x":6.39,"y":19.3,"s":"all residues"},{"x":6.43,"y":20.2,"s":"all residues"},{"x":6.18,"y":14.6,"s":"all residues"},{"x":6.20,"y":14.2,"s":"all residues"},{"x":6.31,"y":15.7,"s":"all residues"},{"x":6.85,"y":19.3,"s":"all residues"},{"x":6.85,"y":17.8,"s":"all residues"},{"x":6.97,"y":24.3,"s":"all residues"},{"x":5.76,"y":13.8,"s":"all residues"},{"x":4.93,"y":30.6,"s":"all residues"},{"x":3.76,"y":27.7,"s":"all residues"},{"x":2.86,"y":11.8,"s":"all residues"},{"x":2.81,"y":27.9,"s":"all residues"},{"x":3.00,"y":27.9,"s":"all residues"},{"x":3.09,"y":27.7,"s":"all residues"}
  ]},
  "layer": [
    {
      "mark": {"type": "circle", "size": 24, "opacity": 1},
      "encoding": {
        "x": {"field": "x", "type": "quantitative", "scale": {"domain": [0, 22], "nice": false, "zero": false},
          "axis": {"orient": "bottom", "values": [0, 4, 8, 12, 16, 20], "labelFontSize": 40, "labelPadding": 12, "labelFlush": false, "title": "RMSD to target structure (Å)", "titleFontSize": 42, "titlePadding": 47}},
        "y": {"field": "y", "type": "quantitative", "scale": {"domain": [0, 100], "nice": false, "zero": false},
          "axis": {"orient": "left", "values": [0, 20, 40, 60, 80, 100], "labelFontSize": 40, "labelPadding": 27, "labelFlush": false, "title": "identity to native sequence (%)", "titleFontSize": 42, "titlePadding": 20}},
        "color": {"field": "s", "type": "nominal", "scale": {"domain": ["core residues", "all residues"], "range": ["#ff0000", "#0000ff"]},
          "legend": {"orient": "none", "legendX": 551, "legendY": 45, "title": null, "strokeColor": "black", "padding": 9, "labelFontSize": 31, "labelFont": "Liberation Sans", "labelColor": "black", "labelLimit": 400, "labelOffset": 12, "rowPadding": 10, "symbolType": "M-0.15,0A0.15,0.15 0 1,0 0.15,0A0.15,0.15 0 1,0 -0.15,0Z", "symbolSize": 900, "symbolStrokeWidth": 0}}
      }
    },
    {
      "data": {"name": "xmajor"},
      "mark": {"type": "point", "shape": "M0,0L0,-1", "size": 1296, "filled": false, "color": "black", "strokeWidth": 1.5, "opacity": 1},
      "encoding": {"x": {"field": "v", "type": "quantitative"}, "y": {"datum": 0, "type": "quantitative"}}
    },
    {
      "data": {"name": "xmajor"},
      "mark": {"type": "point", "shape": "M0,0L0,1", "size": 1296, "filled": false, "color": "black", "strokeWidth": 1.5, "opacity": 1},
      "encoding": {"x": {"field": "v", "type": "quantitative"}, "y": {"datum": 100, "type": "quantitative"}}
    },
    {
      "data": {"name": "xminor"},
      "mark": {"type": "point", "shape": "M0,0L0,-1", "size": 324, "filled": false, "color": "black", "strokeWidth": 1.5, "opacity": 1},
      "encoding": {"x": {"field": "v", "type": "quantitative"}, "y": {"datum": 0, "type": "quantitative"}}
    },
    {
      "data": {"name": "xminor"},
      "mark": {"type": "point", "shape": "M0,0L0,1", "size": 324, "filled": false, "color": "black", "strokeWidth": 1.5, "opacity": 1},
      "encoding": {"x": {"field": "v", "type": "quantitative"}, "y": {"datum": 100, "type": "quantitative"}}
    },
    {
      "data": {"name": "ymajor"},
      "mark": {"type": "point", "shape": "M0,0L1,0", "size": 1296, "filled": false, "color": "black", "strokeWidth": 1.5, "opacity": 1},
      "encoding": {"y": {"field": "v", "type": "quantitative"}, "x": {"datum": 0, "type": "quantitative"}}
    },
    {
      "data": {"name": "ymajor"},
      "mark": {"type": "point", "shape": "M0,0L-1,0", "size": 1296, "filled": false, "color": "black", "strokeWidth": 1.5, "opacity": 1},
      "encoding": {"y": {"field": "v", "type": "quantitative"}, "x": {"datum": 22, "type": "quantitative"}}
    },
    {
      "data": {"name": "yminor"},
      "mark": {"type": "point", "shape": "M0,0L1,0", "size": 324, "filled": false, "color": "black", "strokeWidth": 1.5, "opacity": 1},
      "encoding": {"y": {"field": "v", "type": "quantitative"}, "x": {"datum": 0, "type": "quantitative"}}
    },
    {
      "data": {"name": "yminor"},
      "mark": {"type": "point", "shape": "M0,0L-1,0", "size": 324, "filled": false, "color": "black", "strokeWidth": 1.5, "opacity": 1},
      "encoding": {"y": {"field": "v", "type": "quantitative"}, "x": {"datum": 22, "type": "quantitative"}}
    }
  ]
}
